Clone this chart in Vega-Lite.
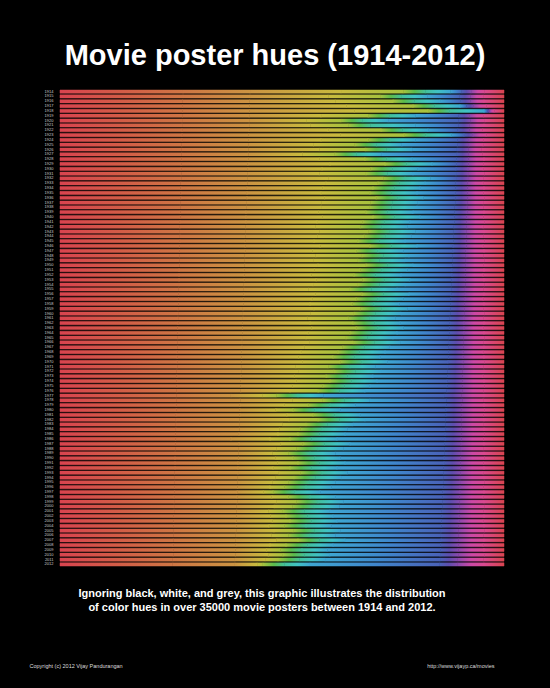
{
"$schema": "https://vega.github.io/schema/vega-lite/v6.json",
"autosize": "none",
"width": 444,
"height": 476,
"padding": {"left": 60, "top": 90, "right": 46, "bottom": 122},
"background": "black",
"config": {"view": {"stroke": null}},
"title": {"text": "Movie poster hues (1914-2012)", "color": "white", "font": "Liberation Sans", "fontSize": 29, "fontWeight": "bold", "anchor": "middle", "frame": "group", "offset": 18, "dx": -7},
"data": {"values": [
{"year":1914,"h30":27.7,"h45":42.8,"h60":63.3,"h90":77.3,"h150":82.3,"h195":87.9,"h240":90.5,"h285":92.6,"h330":95.6},
{"year":1915,"h30":27.7,"h45":42.8,"h60":60.4,"h90":72.1,"h150":77.0,"h195":82.7,"h240":90.0,"h285":92.4,"h330":95.3},
{"year":1916,"h30":27.6,"h45":42.7,"h60":62.0,"h90":75.0,"h150":79.9,"h195":85.6,"h240":90.2,"h285":92.5,"h330":95.5},
{"year":1917,"h30":27.6,"h45":42.7,"h60":64.5,"h90":79.5,"h150":84.4,"h195":90.1,"h240":91.6,"h285":93.2,"h330":96.0},
{"year":1918,"h30":27.6,"h45":42.7,"h60":66.3,"h90":82.9,"h150":87.8,"h195":95.5,"h240":96.2,"h285":96.8,"h330":97.8},
{"year":1919,"h30":27.6,"h45":42.6,"h60":58.8,"h90":69.4,"h150":74.3,"h195":80.0,"h240":89.8,"h285":92.3,"h330":95.4},
{"year":1920,"h30":27.5,"h45":42.6,"h60":55.5,"h90":63.3,"h150":68.2,"h195":73.9,"h240":89.8,"h285":92.5,"h330":95.7},
{"year":1921,"h30":27.5,"h45":42.6,"h60":56.4,"h90":64.9,"h150":70.0,"h195":80.0,"h240":89.7,"h285":92.3,"h330":95.5},
{"year":1922,"h30":27.5,"h45":42.6,"h60":60.4,"h90":72.3,"h150":77.2,"h195":82.9,"h240":89.6,"h285":92.2,"h330":95.2},
{"year":1923,"h30":27.5,"h45":42.5,"h60":63.2,"h90":77.5,"h150":82.4,"h195":88.1,"h240":91.0,"h285":93.0,"h330":96.0},
{"year":1924,"h30":27.5,"h45":42.5,"h60":58.8,"h90":69.4,"h150":74.3,"h195":80.0,"h240":89.5,"h285":92.1,"h330":95.4},
{"year":1925,"h30":27.4,"h45":42.5,"h60":57.1,"h90":66.4,"h150":71.3,"h195":77.0,"h240":89.5,"h285":92.1,"h330":95.3},
{"year":1926,"h30":27.4,"h45":42.4,"h60":58.4,"h90":68.7,"h150":73.6,"h195":79.3,"h240":89.4,"h285":92.0,"h330":95.0},
{"year":1927,"h30":27.4,"h45":42.4,"h60":54.6,"h90":61.9,"h150":66.8,"h195":72.5,"h240":89.4,"h285":92.0,"h330":95.2},
{"year":1928,"h30":27.4,"h45":42.4,"h60":58.4,"h90":68.7,"h150":73.6,"h195":79.3,"h240":89.3,"h285":92.0,"h330":95.5},
{"year":1929,"h30":27.3,"h45":42.3,"h60":60.8,"h90":73.2,"h150":78.1,"h195":83.8,"h240":89.3,"h285":92.0,"h330":95.4},
{"year":1930,"h30":27.3,"h45":42.3,"h60":59.0,"h90":70.0,"h150":74.9,"h195":80.6,"h240":89.2,"h285":91.9,"h330":95.3},
{"year":1931,"h30":27.3,"h45":42.3,"h60":58.4,"h90":68.9,"h150":73.8,"h195":79.5,"h240":89.2,"h285":91.9,"h330":95.6},
{"year":1932,"h30":27.3,"h45":42.2,"h60":60.5,"h90":72.8,"h150":77.7,"h195":83.4,"h240":89.2,"h285":91.9,"h330":95.4},
{"year":1933,"h30":27.2,"h45":42.2,"h60":59.9,"h90":71.6,"h150":76.5,"h195":82.2,"h240":89.1,"h285":91.8,"h330":95.3},
{"year":1934,"h30":27.2,"h45":42.1,"h60":59.2,"h90":70.5,"h150":75.4,"h195":81.1,"h240":89.1,"h285":91.8,"h330":95.5},
{"year":1935,"h30":27.2,"h45":42.1,"h60":58.8,"h90":69.8,"h150":74.7,"h195":80.4,"h240":89.0,"h285":91.8,"h330":95.4},
{"year":1936,"h30":27.2,"h45":42.1,"h60":59.6,"h90":71.2,"h150":76.1,"h195":81.8,"h240":89.0,"h285":91.8,"h330":95.6},
{"year":1937,"h30":27.1,"h45":42.0,"h60":58.9,"h90":70.0,"h150":74.9,"h195":80.6,"h240":89.0,"h285":91.7,"h330":95.3},
{"year":1938,"h30":27.1,"h45":42.0,"h60":58.8,"h90":69.8,"h150":74.7,"h195":80.4,"h240":88.9,"h285":91.7,"h330":95.4},
{"year":1939,"h30":27.1,"h45":41.9,"h60":58.2,"h90":68.9,"h150":73.8,"h195":79.5,"h240":88.9,"h285":91.7,"h330":95.5},
{"year":1940,"h30":27.1,"h45":41.9,"h60":59.1,"h90":70.5,"h150":75.4,"h195":81.1,"h240":88.8,"h285":91.6,"h330":95.4},
{"year":1941,"h30":27.0,"h45":41.9,"h60":57.9,"h90":68.2,"h150":73.1,"h195":78.8,"h240":88.8,"h285":91.6,"h330":95.6},
{"year":1942,"h30":27.0,"h45":41.8,"h60":57.5,"h90":67.6,"h150":72.5,"h195":78.2,"h240":88.7,"h285":91.6,"h330":95.3},
{"year":1943,"h30":27.0,"h45":41.8,"h60":58.5,"h90":69.4,"h150":74.3,"h195":80.0,"h240":88.7,"h285":91.5,"h330":95.5},
{"year":1944,"h30":27.0,"h45":41.8,"h60":58.0,"h90":68.5,"h150":73.4,"h195":79.1,"h240":88.6,"h285":91.5,"h330":95.4},
{"year":1945,"h30":27.0,"h45":41.7,"h60":57.2,"h90":67.1,"h150":72.0,"h195":77.7,"h240":88.6,"h285":91.5,"h330":95.6},
{"year":1946,"h30":26.9,"h45":41.7,"h60":58.6,"h90":69.8,"h150":74.7,"h195":80.4,"h240":88.5,"h285":91.5,"h330":95.3},
{"year":1947,"h30":26.9,"h45":41.7,"h60":56.9,"h90":66.7,"h150":71.6,"h195":77.3,"h240":88.5,"h285":91.4,"h330":95.5},
{"year":1948,"h30":26.9,"h45":41.6,"h60":57.6,"h90":68.0,"h150":72.9,"h195":78.6,"h240":88.4,"h285":91.4,"h330":95.4},
{"year":1949,"h30":26.9,"h45":41.6,"h60":57.1,"h90":67.1,"h150":72.0,"h195":77.7,"h240":88.4,"h285":91.4,"h330":95.6},
{"year":1950,"h30":26.9,"h45":41.6,"h60":58.1,"h90":68.9,"h150":73.8,"h195":79.5,"h240":88.4,"h285":91.4,"h330":95.4},
{"year":1951,"h30":26.8,"h45":41.5,"h60":57.3,"h90":67.6,"h150":72.5,"h195":78.2,"h240":88.3,"h285":91.3,"h330":95.5},
{"year":1952,"h30":26.8,"h45":41.5,"h60":56.6,"h90":66.2,"h150":71.1,"h195":76.8,"h240":88.3,"h285":91.3,"h330":95.3},
{"year":1953,"h30":26.8,"h45":41.5,"h60":57.7,"h90":68.2,"h150":73.1,"h195":78.8,"h240":88.2,"h285":91.3,"h330":95.5},
{"year":1954,"h30":26.8,"h45":41.4,"h60":57.0,"h90":67.1,"h150":72.0,"h195":77.7,"h240":88.2,"h285":91.3,"h330":95.6},
{"year":1955,"h30":26.7,"h45":41.4,"h60":56.0,"h90":65.3,"h150":70.2,"h195":75.9,"h240":88.1,"h285":91.2,"h330":95.4},
{"year":1956,"h30":26.7,"h45":41.4,"h60":57.5,"h90":68.0,"h150":72.9,"h195":78.6,"h240":88.1,"h285":91.2,"h330":95.5},
{"year":1957,"h30":26.7,"h45":41.3,"h60":56.8,"h90":66.7,"h150":71.6,"h195":77.3,"h240":88.0,"h285":91.2,"h330":95.3},
{"year":1958,"h30":26.7,"h45":41.3,"h60":56.3,"h90":65.8,"h150":70.7,"h195":76.4,"h240":88.0,"h285":91.1,"h330":95.5},
{"year":1959,"h30":26.6,"h45":41.2,"h60":57.2,"h90":67.6,"h150":72.5,"h195":78.2,"h240":87.9,"h285":91.1,"h330":95.4},
{"year":1960,"h30":26.6,"h45":41.2,"h60":56.4,"h90":66.2,"h150":71.1,"h195":76.8,"h240":87.9,"h285":91.1,"h330":95.6},
{"year":1961,"h30":26.6,"h45":41.2,"h60":55.7,"h90":64.9,"h150":69.8,"h195":75.5,"h240":87.8,"h285":91.0,"h330":95.4},
{"year":1962,"h30":26.6,"h45":41.1,"h60":56.3,"h90":66.0,"h150":70.9,"h195":76.6,"h240":87.8,"h285":91.0,"h330":95.5},
{"year":1963,"h30":26.5,"h45":41.1,"h60":56.7,"h90":66.7,"h150":71.6,"h195":77.3,"h240":87.7,"h285":91.0,"h330":95.3},
{"year":1964,"h30":26.5,"h45":41.1,"h60":55.9,"h90":65.3,"h150":70.2,"h195":75.9,"h240":87.7,"h285":91.0,"h330":95.5},
{"year":1965,"h30":26.5,"h45":41.0,"h60":55.4,"h90":64.4,"h150":69.3,"h195":75.0,"h240":87.6,"h285":90.9,"h330":95.6},
{"year":1966,"h30":26.5,"h45":41.0,"h60":56.2,"h90":66.0,"h150":70.9,"h195":76.6,"h240":87.6,"h285":90.9,"h330":95.4},
{"year":1967,"h30":26.5,"h45":41.0,"h60":55.0,"h90":63.7,"h150":68.6,"h195":74.3,"h240":87.5,"h285":90.9,"h330":95.5},
{"year":1968,"h30":26.4,"h45":40.9,"h60":54.3,"h90":62.6,"h150":67.5,"h195":73.2,"h240":87.5,"h285":90.8,"h330":95.3},
{"year":1969,"h30":26.4,"h45":40.9,"h60":53.7,"h90":61.5,"h150":66.4,"h195":72.1,"h240":87.5,"h285":90.8,"h330":95.5},
{"year":1970,"h30":26.4,"h45":40.9,"h60":54.6,"h90":63.1,"h150":68.0,"h195":73.7,"h240":87.4,"h285":90.8,"h330":95.6},
{"year":1971,"h30":26.4,"h45":40.8,"h60":53.1,"h90":60.4,"h150":65.3,"h195":71.0,"h240":87.4,"h285":90.8,"h330":95.4},
{"year":1972,"h30":26.3,"h45":40.8,"h60":53.8,"h90":61.7,"h150":66.6,"h195":72.3,"h240":87.3,"h285":90.7,"h330":95.5},
{"year":1973,"h30":26.3,"h45":40.8,"h60":52.8,"h90":59.9,"h150":64.8,"h195":70.5,"h240":87.3,"h285":90.7,"h330":95.3},
{"year":1974,"h30":26.3,"h45":40.7,"h60":53.2,"h90":60.8,"h150":65.7,"h195":71.4,"h240":87.2,"h285":90.7,"h330":95.5},
{"year":1975,"h30":26.3,"h45":40.7,"h60":52.4,"h90":59.2,"h150":64.1,"h195":69.8,"h240":87.2,"h285":90.7,"h330":95.6},
{"year":1976,"h30":26.3,"h45":40.7,"h60":51.8,"h90":58.1,"h150":63.0,"h195":68.7,"h240":87.1,"h285":90.6,"h330":95.4},
{"year":1977,"h30":26.2,"h45":38.5,"h60":45.6,"h90":48.7,"h150":53.6,"h195":59.3,"h240":86.5,"h285":90.4,"h330":95.5},
{"year":1978,"h30":26.2,"h45":40.6,"h60":52.3,"h90":59.2,"h150":64.1,"h195":69.8,"h240":87.0,"h285":90.6,"h330":95.3},
{"year":1979,"h30":26.2,"h45":40.5,"h60":50.5,"h90":55.9,"h150":60.8,"h195":66.5,"h240":87.0,"h285":90.5,"h330":95.5},
{"year":1980,"h30":26.2,"h45":40.5,"h60":48.6,"h90":52.5,"h150":57.4,"h195":63.1,"h240":86.9,"h285":90.5,"h330":95.6},
{"year":1981,"h30":26.1,"h45":40.5,"h60":51.1,"h90":57.0,"h150":61.9,"h195":67.6,"h240":86.9,"h285":90.5,"h330":95.4},
{"year":1982,"h30":26.1,"h45":40.4,"h60":51.6,"h90":58.1,"h150":63.0,"h195":68.7,"h240":86.8,"h285":90.5,"h330":95.5},
{"year":1983,"h30":26.1,"h45":40.4,"h60":50.1,"h90":55.4,"h150":60.3,"h195":66.0,"h240":86.8,"h285":90.4,"h330":95.3},
{"year":1984,"h30":26.1,"h45":40.4,"h60":49.4,"h90":54.1,"h150":59.0,"h195":64.7,"h240":86.8,"h285":90.4,"h330":95.5},
{"year":1985,"h30":26.0,"h45":40.3,"h60":49.1,"h90":53.6,"h150":58.5,"h195":64.2,"h240":86.7,"h285":90.4,"h330":95.6},
{"year":1986,"h30":26.0,"h45":38.5,"h60":47.3,"h90":51.8,"h150":56.7,"h195":62.4,"h240":86.7,"h285":90.4,"h330":95.4},
{"year":1987,"h30":26.0,"h45":40.3,"h60":49.7,"h90":54.7,"h150":59.6,"h195":65.3,"h240":86.6,"h285":90.3,"h330":95.5},
{"year":1988,"h30":26.0,"h45":40.2,"h60":48.8,"h90":53.2,"h150":58.1,"h195":63.8,"h240":86.6,"h285":90.3,"h330":95.3},
{"year":1989,"h30":25.9,"h45":40.2,"h60":47.8,"h90":51.4,"h150":56.3,"h195":62.0,"h240":86.6,"h285":90.3,"h330":95.5},
{"year":1990,"h30":25.9,"h45":40.2,"h60":48.5,"h90":52.5,"h150":57.4,"h195":63.1,"h240":86.5,"h285":90.2,"h330":95.6},
{"year":1991,"h30":25.9,"h45":40.1,"h60":49.0,"h90":53.6,"h150":58.5,"h195":64.2,"h240":86.5,"h285":90.2,"h330":95.4},
{"year":1992,"h30":25.9,"h45":40.1,"h60":48.0,"h90":51.8,"h150":56.7,"h195":62.4,"h240":86.4,"h285":90.2,"h330":95.5},
{"year":1993,"h30":25.8,"h45":40.1,"h60":49.3,"h90":54.1,"h150":59.0,"h195":64.7,"h240":86.4,"h285":90.2,"h330":95.3},
{"year":1994,"h30":25.8,"h45":40.0,"h60":48.5,"h90":52.7,"h150":57.6,"h195":63.3,"h240":86.3,"h285":90.1,"h330":95.5},
{"year":1995,"h30":25.8,"h45":40.0,"h60":47.8,"h90":51.4,"h150":56.3,"h195":62.0,"h240":86.3,"h285":90.1,"h330":95.6},
{"year":1996,"h30":25.8,"h45":40.0,"h60":47.3,"h90":50.5,"h150":55.4,"h195":61.1,"h240":86.3,"h285":90.1,"h330":95.4},
{"year":1997,"h30":25.8,"h45":39.9,"h60":45.8,"h90":48.0,"h150":52.9,"h195":58.6,"h240":86.2,"h285":90.1,"h330":95.5},
{"year":1998,"h30":25.7,"h45":39.9,"h60":47.7,"h90":51.4,"h150":56.3,"h195":62.0,"h240":86.2,"h285":90.0,"h330":95.3},
{"year":1999,"h30":25.7,"h45":39.9,"h60":48.7,"h90":53.2,"h150":58.1,"h195":63.8,"h240":86.1,"h285":90.0,"h330":95.5},
{"year":2000,"h30":25.7,"h45":39.8,"h60":48.2,"h90":52.3,"h150":57.2,"h195":62.9,"h240":86.1,"h285":90.0,"h330":95.6},
{"year":2001,"h30":25.7,"h45":39.8,"h60":47.0,"h90":50.2,"h150":55.1,"h195":60.8,"h240":86.0,"h285":89.9,"h330":95.4},
{"year":2002,"h30":25.6,"h45":39.8,"h60":47.4,"h90":50.9,"h150":55.8,"h195":61.5,"h240":86.0,"h285":89.9,"h330":95.5},
{"year":2003,"h30":25.6,"h45":39.7,"h60":47.8,"h90":51.8,"h150":56.7,"h195":62.4,"h240":85.9,"h285":89.9,"h330":95.3},
{"year":2004,"h30":25.6,"h45":39.7,"h60":47.1,"h90":50.5,"h150":55.4,"h195":61.1,"h240":85.9,"h285":89.8,"h330":95.5},
{"year":2005,"h30":25.6,"h45":39.7,"h60":48.2,"h90":52.5,"h150":57.4,"h195":63.1,"h240":85.8,"h285":89.8,"h330":95.6},
{"year":2006,"h30":25.6,"h45":39.6,"h60":47.6,"h90":51.4,"h150":56.3,"h195":62.0,"h240":85.8,"h285":89.8,"h330":95.4},
{"year":2007,"h30":25.5,"h45":39.6,"h60":48.8,"h90":53.6,"h150":58.5,"h195":64.2,"h240":85.8,"h285":89.8,"h330":95.5},
{"year":2008,"h30":25.5,"h45":39.6,"h60":47.3,"h90":50.9,"h150":55.8,"h195":61.5,"h240":85.7,"h285":89.7,"h330":95.3},
{"year":2009,"h30":25.5,"h45":39.5,"h60":46.5,"h90":49.6,"h150":54.5,"h195":60.2,"h240":85.7,"h285":89.7,"h330":95.5},
{"year":2010,"h30":25.5,"h45":39.5,"h60":46.9,"h90":50.2,"h150":55.1,"h195":60.8,"h240":85.6,"h285":89.7,"h330":95.6},
{"year":2011,"h30":25.4,"h45":39.4,"h60":46.2,"h90":49.1,"h150":54.0,"h195":59.7,"h240":85.6,"h285":89.6,"h330":95.4},
{"year":2012,"h30":25.4,"h45":39.4,"h60":44.4,"h90":45.7,"h150":50.6,"h195":56.3,"h240":85.5,"h285":89.6,"h330":95.5}
]},
"encoding": {
  "y": {"field": "year", "type": "ordinal", "axis": null, "scale": {"paddingInner": 0.33, "paddingOuter": 0}}
},
"resolve": {"axis": {"x": "independent", "y": "independent"}},
"layer": [
{"mark": {"type": "bar", "orient": "horizontal", "strokeWidth": 0.5,
  "fill": {"gradient": "linear", "x1": 0, "y1": 0, "x2": 1, "y2": 0, "stops": [{"offset": 0, "color": "#d9444f"}, {"offset": 0.5, "color": "#d35c47"}, {"offset": 1, "color": "#cf7644"}]},
  "stroke": {"gradient": "linear", "x1": 0, "y1": 0, "x2": 1, "y2": 0, "stops": [{"offset": 0, "color": "#d9444f"}, {"offset": 0.5, "color": "#d35c47"}, {"offset": 1, "color": "#cf7644"}]}},
 "encoding": {
  "x": {"field": "h30", "type": "quantitative", "scale": {"domain": [0, 100], "nice": false, "zero": true},
        "axis": {"orient": "bottom", "labels": false, "ticks": false, "domain": false, "grid": false,
                 "title": ["Ignoring black, white, and grey, this graphic illustrates the distribution", "of color hues in over 35000 movie posters between 1914 and 2012."],
                 "titleColor": "white", "titleFont": "Liberation Sans", "titleFontSize": 11, "titleFontWeight": "bold",
                 "titleX": 201.5, "titleY": 30, "titleAlign": "center", "titleBaseline": "alphabetic", "titleLineHeight": 14.5}},
  "y": {"field": "year", "type": "ordinal", "scale": {"paddingInner": 0.33, "paddingOuter": 0},
        "axis": {"orient": "left", "ticks": false, "domain": false, "grid": false, "labelFontSize": 4, "labelColor": "#cccccc",
                 "labelFont": "Liberation Sans", "labelPadding": 7, "labelOverlap": false,
                 "title": "Copyright (c) 2012 Vijay Pandurangan", "titleAngle": 0, "titleX": -31, "titleY": 577,
                 "titleAlign": "left", "titleBaseline": "alphabetic", "titleFontSize": 5.5, "titleFontWeight": "normal",
                 "titleColor": "#dddddd", "titleFont": "Liberation Sans"}}
 }},
{"mark": {"type": "rect", "strokeWidth": 0.5,
  "fill": {"gradient": "linear", "x1": 0, "y1": 0, "x2": 1, "y2": 0, "stops": [{"offset": 0, "color": "#cf7644"}, {"offset": 1, "color": "#cc9442"}]},
  "stroke": {"gradient": "linear", "x1": 0, "y1": 0, "x2": 1, "y2": 0, "stops": [{"offset": 0, "color": "#cf7644"}, {"offset": 1, "color": "#cc9442"}]}},
 "encoding": {"x": {"field": "h30", "type": "quantitative", "axis": null}, "x2": {"field": "h45"}}},
{"mark": {"type": "rect", "strokeWidth": 0.5,
  "fill": {"gradient": "linear", "x1": 0, "y1": 0, "x2": 1, "y2": 0, "stops": [{"offset": 0, "color": "#cc9442"}, {"offset": 1, "color": "#c9bb3e"}]},
  "stroke": {"gradient": "linear", "x1": 0, "y1": 0, "x2": 1, "y2": 0, "stops": [{"offset": 0, "color": "#cc9442"}, {"offset": 1, "color": "#c9bb3e"}]}},
 "encoding": {"x": {"field": "h45", "type": "quantitative", "axis": null}, "x2": {"field": "h60"}}},
{"mark": {"type": "rect", "strokeWidth": 0.5,
  "fill": {"gradient": "linear", "x1": 0, "y1": 0, "x2": 1, "y2": 0, "stops": [{"offset": 0, "color": "#c9bb3e"}, {"offset": 1, "color": "#a8c23e"}]},
  "stroke": {"gradient": "linear", "x1": 0, "y1": 0, "x2": 1, "y2": 0, "stops": [{"offset": 0, "color": "#c9bb3e"}, {"offset": 1, "color": "#a8c23e"}]}},
 "encoding": {"x": {"field": "h60", "type": "quantitative", "axis": null}, "x2": {"field": "h90"}}},
{"mark": {"type": "rect", "strokeWidth": 0.5,
  "fill": {"gradient": "linear", "x1": 0, "y1": 0, "x2": 1, "y2": 0, "stops": [{"offset": 0, "color": "#a8c23e"}, {"offset": 0.5, "color": "#5cbb4c"}, {"offset": 1, "color": "#44c09a"}]},
  "stroke": {"gradient": "linear", "x1": 0, "y1": 0, "x2": 1, "y2": 0, "stops": [{"offset": 0, "color": "#a8c23e"}, {"offset": 0.5, "color": "#5cbb4c"}, {"offset": 1, "color": "#44c09a"}]}},
 "encoding": {"x": {"field": "h90", "type": "quantitative", "axis": null}, "x2": {"field": "h150"}}},
{"mark": {"type": "rect", "strokeWidth": 0.5,
  "fill": {"gradient": "linear", "x1": 0, "y1": 0, "x2": 1, "y2": 0, "stops": [{"offset": 0, "color": "#44c09a"}, {"offset": 0.5, "color": "#40c2c4"}, {"offset": 1, "color": "#3ea6d2"}]},
  "stroke": {"gradient": "linear", "x1": 0, "y1": 0, "x2": 1, "y2": 0, "stops": [{"offset": 0, "color": "#44c09a"}, {"offset": 0.5, "color": "#40c2c4"}, {"offset": 1, "color": "#3ea6d2"}]}},
 "encoding": {"x": {"field": "h150", "type": "quantitative", "axis": null}, "x2": {"field": "h195"}}},
{"mark": {"type": "rect", "strokeWidth": 0.5,
  "fill": {"gradient": "linear", "x1": 0, "y1": 0, "x2": 1, "y2": 0, "stops": [{"offset": 0, "color": "#3ea6d2"}, {"offset": 0.5, "color": "#3f86cc"}, {"offset": 1, "color": "#4a62b8"}]},
  "stroke": {"gradient": "linear", "x1": 0, "y1": 0, "x2": 1, "y2": 0, "stops": [{"offset": 0, "color": "#3ea6d2"}, {"offset": 0.5, "color": "#3f86cc"}, {"offset": 1, "color": "#4a62b8"}]}},
 "encoding": {"x": {"field": "h195", "type": "quantitative", "axis": null}, "x2": {"field": "h240"}}},
{"mark": {"type": "rect", "strokeWidth": 0.5,
  "fill": {"gradient": "linear", "x1": 0, "y1": 0, "x2": 1, "y2": 0, "stops": [{"offset": 0, "color": "#4a62b8"}, {"offset": 0.5, "color": "#5e4eae"}, {"offset": 1, "color": "#8a4aae"}]},
  "stroke": {"gradient": "linear", "x1": 0, "y1": 0, "x2": 1, "y2": 0, "stops": [{"offset": 0, "color": "#4a62b8"}, {"offset": 0.5, "color": "#5e4eae"}, {"offset": 1, "color": "#8a4aae"}]}},
 "encoding": {"x": {"field": "h240", "type": "quantitative", "axis": null}, "x2": {"field": "h285"}}},
{"mark": {"type": "rect", "strokeWidth": 0.5,
  "fill": {"gradient": "linear", "x1": 0, "y1": 0, "x2": 1, "y2": 0, "stops": [{"offset": 0, "color": "#8a4aae"}, {"offset": 0.5, "color": "#cc48a6"}, {"offset": 1, "color": "#da4990"}]},
  "stroke": {"gradient": "linear", "x1": 0, "y1": 0, "x2": 1, "y2": 0, "stops": [{"offset": 0, "color": "#8a4aae"}, {"offset": 0.5, "color": "#cc48a6"}, {"offset": 1, "color": "#da4990"}]}},
 "encoding": {"x": {"field": "h285", "type": "quantitative", "axis": null}, "x2": {"field": "h330"}}},
{"mark": {"type": "rect", "strokeWidth": 0.5,
  "fill": {"gradient": "linear", "x1": 0, "y1": 0, "x2": 1, "y2": 0, "stops": [{"offset": 0, "color": "#da4990"}, {"offset": 1, "color": "#d9444f"}]},
  "stroke": {"gradient": "linear", "x1": 0, "y1": 0, "x2": 1, "y2": 0, "stops": [{"offset": 0, "color": "#da4990"}, {"offset": 1, "color": "#d9444f"}]}},
 "encoding": {
  "x": {"field": "h330", "type": "quantitative", "axis": null},
  "x2": {"value": "width"},
  "y": {"field": "year", "type": "ordinal", "scale": {"paddingInner": 0.33, "paddingOuter": 0},
        "axis": {"orient": "right", "labels": false, "ticks": false, "domain": false, "grid": false,
                 "title": "http://www.vijayp.ca/movies", "titleAngle": 0, "titleX": -10, "titleY": 577,
                 "titleAlign": "right", "titleBaseline": "alphabetic", "titleFontSize": 5.5, "titleFontWeight": "normal",
                 "titleColor": "#dddddd", "titleFont": "Liberation Sans"}}
 }}
]
}
